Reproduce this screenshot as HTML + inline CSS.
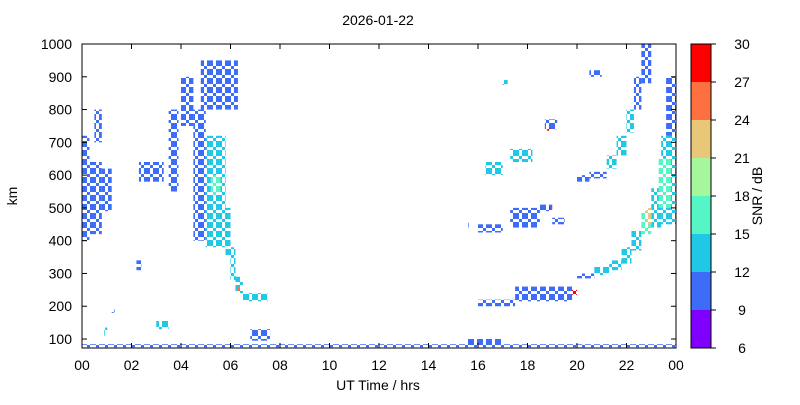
<!DOCTYPE html>
<html><head><meta charset="utf-8"><style>
body{margin:0;background:#fff;width:800px;height:400px;overflow:hidden;font-family:"Liberation Sans",sans-serif}
</style></head><body>
<svg id="chart" width="800" height="400" xmlns="http://www.w3.org/2000/svg" font-family="Liberation Sans, sans-serif" font-size="14">
<defs id="defs"></defs>
<rect width="800" height="400" fill="#fff"/>
<g id="marks"></g>
<rect x="82" y="44" width="594" height="304" fill="none" stroke="#000" stroke-width="1"/>
<g id="axes"></g>
<text x="378" y="25" text-anchor="middle">2026-01-22</text>
<text x="378" y="390" text-anchor="middle">UT Time / hrs</text>
<text x="17" y="196" text-anchor="middle" transform="rotate(-90 17 196)">km</text>
<g id="cbar"></g>
<text x="762" y="196" text-anchor="middle" transform="rotate(-90 762 196)">SNR / dB</text>
</svg>
<script>
const xTicks=[0,2,4,6,8,10,12,14,16,18,20,22,24];
const xTickLabels=["00","02","04","06","08","10","12","14","16","18","20","22","00"];
const yTicks=[100,200,300,400,500,600,700,800,900,1000];
const cbTicks=[6,9,12,15,18,21,24,27,30];
const cbColors=["#7f00ff","#3c6cf8","#1ec8e6","#55f5c6","#a6f79c","#e8c878","#ff7040","#ff0000"];
// blocks: [tStart, tEnd, kmLow, kmHigh, snr]
const blkT0=[0,0.3,0.8,0.5,0.9,1.2,2.2,2.3,3.5,4.0,4.5,5.0,5.3,5.8,6.0,6.2,6.5,4.8,6.8,3.0,0,15.5,16,17.5,19.8,
 20,20.7,21.3,21.8,22.2,22.6,23,23.4,23.6,23.3,22.8,
 16,17.3,18.5,18.8,19,16.3,17.3,18.7,18.8,
 20,20.5,21.2,21.6,22,22.3,22.6,20.5,17,15.5,5.2,6.3];
const blkT1=[0.3,0.8,1.2,0.8,1.0,1.3,2.4,3.3,3.9,4.5,5.0,5.8,5.6,6.0,6.2,6.5,7.5,6.3,7.6,3.5,24,17,17.5,19.8,20.0,
 20.7,21.3,21.8,22.2,22.6,23,23.4,24,24,23.8,23.0,
 17,18.5,19,18.9,19.5,17,18.2,19.2,18.9,
 20.5,21.2,21.6,22,22.3,22.6,23,21,17.2,15.6,5.6,6.5];
const blkK0=[400,420,490,700,110,180,310,580,550,750,400,380,480,350,280,240,215,800,95,130,77,80,200,215,235,
 285,295,310,330,370,420,440,450,720,500,450,
 425,440,490,495,450,600,640,740,735,
 580,590,620,660,730,800,880,900,875,440,540,245];
const blkK1=[720,640,620,800,135,190,340,640,800,900,800,720,600,500,380,290,240,950,130,155,84,100,220,260,250,
 300,320,340,380,430,490,560,720,900,650,500,
 450,500,510,505,470,640,680,770,745,
 600,610,660,720,800,900,1000,920,890,455,600,260];
const blkSnr=[10,11,10,10,13,10,10,10,10,10,10,12,14,12,12,12,13,10,11,12,10,10,11,11,28,
 11,12,12,13,14,15,14,13,11,16,22,
 11,11,11,27,11,12,12,11,28,
 11,11,12,12,12,11,11,11,13,10,16,26];
const X=t=>82+t*594/24;
const Y=k=>44+(1000-k)*304/(1000-72.6);
const bandIdx=s=>Math.max(0,Math.min(7,Math.floor((s-6)/3)));
const NS="http://www.w3.org/2000/svg";
function mk(tag,attrs,parent){const e=document.createElementNS(NS,tag);for(const k in attrs)e.setAttribute(k,attrs[k]);parent.appendChild(e);return e;}
const defs=document.getElementById('defs');
cbColors.forEach((c,i)=>{
 const p=mk('pattern',{id:'sp'+i,width:9,height:9,patternUnits:'userSpaceOnUse'},defs);
 [[0,0],[6,3],[3,6],[3,0],[0,6]].forEach(([a,b])=>mk('rect',{x:a,y:b,width:3,height:3,fill:c},p));
});
const marks=document.getElementById('marks');
for(let i=0;i<blkT0.length;i++){
 const r=mk('rect',{x:X(blkT0[i]),y:Y(blkK1[i]),width:Math.max(3,X(blkT1[i])-X(blkT0[i])),height:Math.max(3,Y(blkK0[i])-Y(blkK1[i])),fill:'url(#sp'+bandIdx(blkSnr[i])+')'},marks);
 
 
}
const axes=document.getElementById('axes');
xTicks.forEach((t,i)=>{
 mk('line',{x1:X(t),x2:X(t),y1:348,y2:343,stroke:'#000'},axes);
 mk('line',{x1:X(t),x2:X(t),y1:44,y2:49,stroke:'#000'},axes);
 const tx=mk('text',{x:X(t),y:370,'text-anchor':'middle'},axes);tx.textContent=xTickLabels[i];
 
 
});
yTicks.forEach(k=>{
 mk('line',{x1:82,x2:87,y1:Y(k),y2:Y(k),stroke:'#000'},axes);
 mk('line',{x1:676,x2:671,y1:Y(k),y2:Y(k),stroke:'#000'},axes);
 const tx=mk('text',{x:72,y:Y(k)+5,'text-anchor':'end'},axes);tx.textContent=k;
 
 
});
const cb=document.getElementById('cbar');
const CY=s=>348-(s-6)*304/24;
cbColors.forEach((c,i)=>{
 const r=mk('rect',{x:691,y:CY(cbTicks[i+1]),width:20,height:CY(cbTicks[i])-CY(cbTicks[i+1]),fill:c},cb);
 
 
});
mk('rect',{x:691,y:44,width:20,height:304,fill:'none',stroke:'#000'},cb);
cbTicks.forEach(s=>{
 mk('line',{x1:711,x2:716,y1:CY(s),y2:CY(s),stroke:'#000'},cb);
 const tx=mk('text',{x:742,y:CY(s)+5,'text-anchor':'middle'},cb);tx.textContent=s;
 
 
});
</script>
</body></html>
